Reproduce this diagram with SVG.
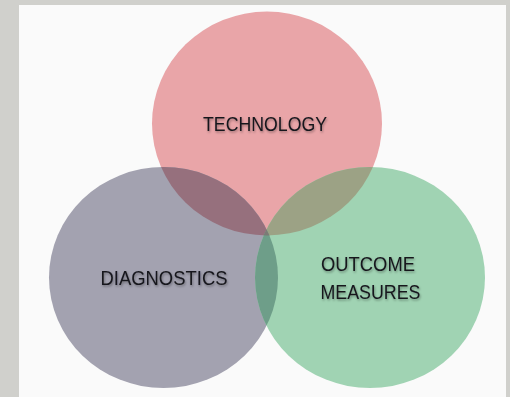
<svg xmlns="http://www.w3.org/2000/svg" width="510" height="397" viewBox="0 0 510 397">
  <defs>
    <style>
      .lbl { font-family: "Liberation Sans", "Open Sans", Arial, sans-serif; font-size: 19.5px; fill: #18181e; text-anchor: middle; filter: url(#sh); }
    </style>
    <filter id="sh" x="-10%" y="-30%" width="120%" height="160%">
      <feDropShadow dx="0.8" dy="1.5" stdDeviation="1.2" flood-color="#000" flood-opacity="0.35"/>
    </filter>
    <clipPath id="cRed"><ellipse cx="267" cy="123.5" rx="115" ry="112"/></clipPath>
    <clipPath id="cDark"><ellipse cx="163.5" cy="277.5" rx="114.5" ry="110.5"/></clipPath>
    <clipPath id="cGreen"><ellipse cx="370" cy="277.5" rx="115" ry="110.5"/></clipPath>
  </defs>
  <rect x="0" y="0" width="510" height="397" fill="#d0d0cc"/>
  <rect x="19" y="5" width="487" height="392" fill="#fafafa"/>

  <g id="technology">
    <ellipse cx="267" cy="123.5" rx="115" ry="112" fill="#e9a5a8"/>
  </g>
  <g id="diagnostics">
    <ellipse cx="163.5" cy="277.5" rx="114.5" ry="110.5" fill="#a3a2b0"/>
  </g>
  <g id="outcome-measures">
    <ellipse cx="370" cy="277.5" rx="115" ry="110.5" fill="#a0d3b3"/>
  </g>

  <g id="overlaps">
    <g clip-path="url(#cRed)">
      <ellipse cx="163.5" cy="277.5" rx="114.5" ry="110.5" fill="#96707d"/>
      <ellipse cx="370" cy="277.5" rx="115" ry="110.5" fill="#9ca285"/>
    </g>
    <g clip-path="url(#cDark)">
      <ellipse cx="370" cy="277.5" rx="115" ry="110.5" fill="#6e9e89"/>
      <g clip-path="url(#cRed)">
        <ellipse cx="370" cy="277.5" rx="115" ry="110.5" fill="#7c7a76"/>
      </g>
    </g>
  </g>

  <g id="labels">
    <text class="lbl" x="265" y="131" textLength="124" lengthAdjust="spacingAndGlyphs">TECHNOLOGY</text>
    <text class="lbl" x="164" y="285" textLength="127" lengthAdjust="spacingAndGlyphs">DIAGNOSTICS</text>
    <text class="lbl" x="368" y="271" textLength="94" lengthAdjust="spacingAndGlyphs">OUTCOME</text>
    <text class="lbl" x="370.5" y="299" textLength="100" lengthAdjust="spacingAndGlyphs">MEASURES</text>
  </g>
</svg>
